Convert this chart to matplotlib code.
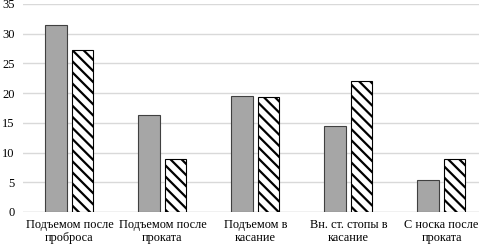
import numpy as np
import matplotlib
matplotlib.use('Agg')
from matplotlib import pyplot as plt

categories = ['Подъемом после\nпроброса', 'Подъемом после\nпроката', 'Подъемом в\nкасание',
              'Вн. ст. стопы в\nкасание', 'С носка после\nпроката']
series_gray = [31.5, 16.3, 19.5, 14.4, 5.4]
series_hatch = [27.2, 9.0, 19.3, 22.0, 9.0]

plt.rcParams['font.family'] = ['Liberation Serif', 'DejaVu Serif']
plt.rcParams['hatch.linewidth'] = 1.6

fig = plt.figure(figsize=(4.79, 2.48), dpi=100)
ax = fig.add_axes([23 / 479, 36 / 248, 465 / 479, 208 / 248])

x = np.arange(len(categories))
w = 0.23
ax.bar(x - 0.145, series_gray, w, color='#a6a6a6', edgecolor='#404040', linewidth=0.8, zorder=3)
ax.bar(x + 0.14, series_hatch, w, color='white', edgecolor='black', hatch='\\\\\\', linewidth=0.8, zorder=3)

ax.set_xlim(-0.5, 4.5)
ax.set_ylim(0, 35)
ax.set_yticks(range(0, 36, 5))
ax.set_xticks(x)
ax.set_xticklabels(categories, fontsize=8.8, linespacing=1.1)
ax.tick_params(axis='y', labelsize=9, length=0, pad=6)
ax.tick_params(axis='x', length=0, pad=5)
ax.grid(axis='y', color='#d9d9d9', linewidth=1, zorder=0)
for s in ax.spines.values():
    s.set_visible(False)
ax.axhline(0, color='#d9d9d9', linewidth=1, zorder=1)

fig.savefig('out.png', dpi=100)
